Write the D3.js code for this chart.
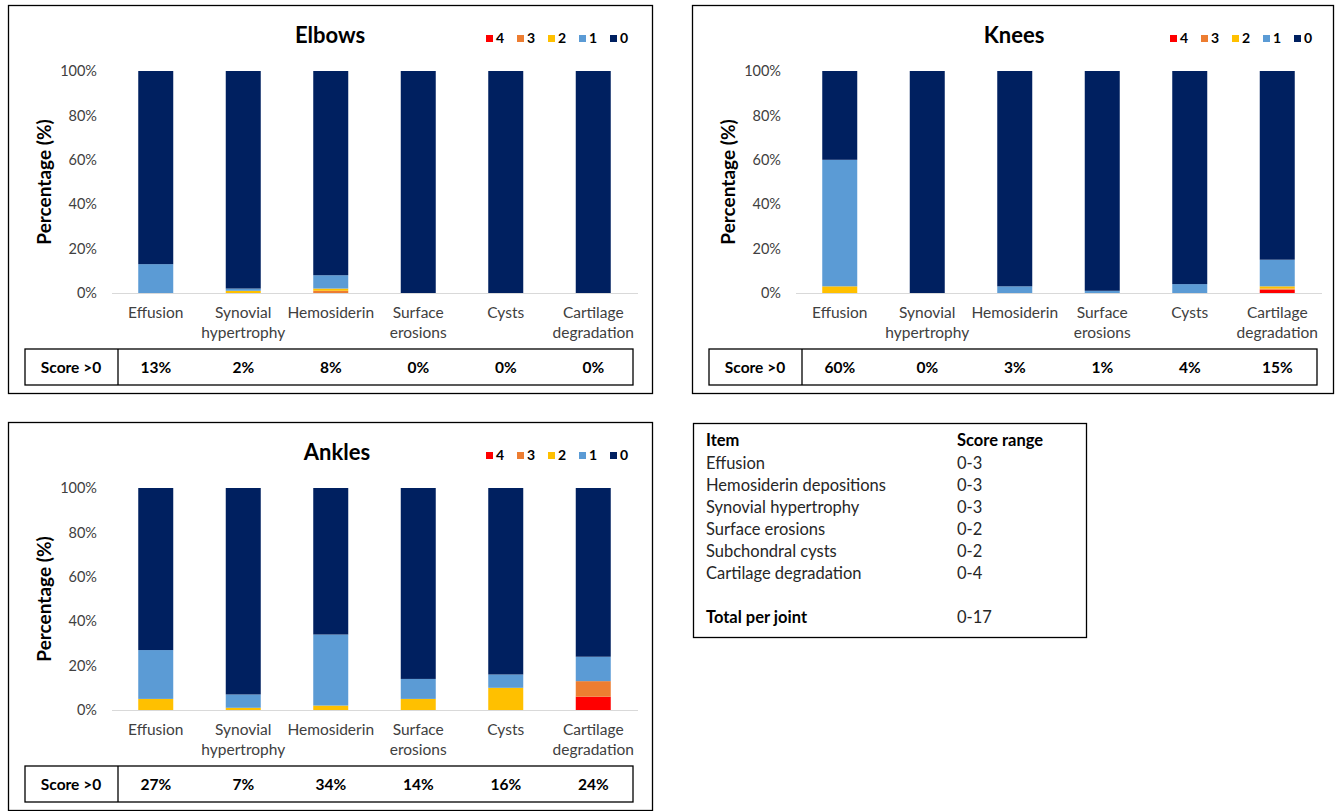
<!DOCTYPE html>
<html>
<head>
<meta charset="utf-8">
<script src="https://cdn.jsdelivr.net/npm/d3@7/dist/d3.min.js"></script>
<style>
  body { margin: 0; background: #fff; }
  svg { display: block; font-family: Lato, "Open Sans", sans-serif; }
</style>
</head>
<body>
<div id="viewportContainer"></div>
<script>
/* --- data --- */
const categories = ["Effusion", "Synovial hypertrophy", "Hemosiderin", "Surface erosions", "Cysts", "Cartilage degradation"];
const categoryLines = [["Effusion"], ["Synovial", "hypertrophy"], ["Hemosiderin"], ["Surface", "erosions"], ["Cysts"], ["Cartilage", "degradation"]];
const scoreKeys = ["0", "1", "2", "3", "4"];
const legendKeys = ["4", "3", "2", "1", "0"];
const yTicks = [0, 20, 40, 60, 80, 100];

// percentage of joints per score, per item
const elbows0 = [87, 98, 92, 100, 100, 100];
const elbows1 = [13, 1, 6, 0, 0, 0];
const elbows2 = [0, 1, 1, 0, 0, 0];
const elbows3 = [0, 0, 1, 0, 0, 0];
const elbows4 = [0, 0, 0, 0, 0, 0];
const elbowsScore = [13, 2, 8, 0, 0, 0];

const knees0 = [40, 100, 97, 99, 96, 85];
const knees1 = [57, 0, 3, 1, 4, 12];
const knees2 = [3, 0, 0, 0, 0, 1];
const knees3 = [0, 0, 0, 0, 0, 0.5];
const knees4 = [0, 0, 0, 0, 0, 1.5];
const kneesScore = [60, 0, 3, 1, 4, 15];

const ankles0 = [73, 93, 66, 86, 84, 76];
const ankles1 = [22, 6, 32, 9, 6, 11];
const ankles2 = [5, 1, 2, 5, 10, 0];
const ankles3 = [0, 0, 0, 0, 0, 7];
const ankles4 = [0, 0, 0, 0, 0, 6];
const anklesScore = [27, 7, 34, 14, 16, 24];

const scoreItems = ["Effusion", "Hemosiderin depositions", "Synovial hypertrophy", "Surface erosions", "Subchondral cysts", "Cartilage degradation"];
const scoreRanges = ["0-3", "0-3", "0-3", "0-2", "0-2", "0-4"];

const colors = d3.scaleOrdinal()
    .domain(scoreKeys)
    .range(["#002060", "#5B9BD5", "#FFC000", "#ED7D31", "#FF0000"]);

/* --- viewport --- */
const viewport = {width: 1340, height: 811};
const svg = d3.select("#viewportContainer").append("svg")
    .attr("width", viewport.width)
    .attr("height", viewport.height);

const panels = [
    {title: "Elbows", x: 8, y: 5, w: 644, h: 388, titleX: 322, s: [elbows0, elbows1, elbows2, elbows3, elbows4], score: elbowsScore},
    {title: "Knees", x: 692, y: 5, w: 641, h: 388, titleX: 322, s: [knees0, knees1, knees2, knees3, knees4], score: kneesScore},
    {title: "Ankles", x: 8, y: 422, w: 644, h: 388, titleX: 329, s: [ankles0, ankles1, ankles2, ankles3, ankles4], score: anklesScore}
];

const xScale = d3.scaleBand().domain(categories).range([104, 629]).paddingInner(0.6).paddingOuter(0.3);
const yScale = d3.scaleLinear().domain([0, 100]).range([288, 66]);

let drawPanel = function(p) {
    const g = svg.append("g").attr("transform", "translate(" + p.x + "," + p.y + ")");

    g.append("rect")
        .attr("x", 0.5).attr("y", 0.5)
        .attr("width", p.w).attr("height", p.h)
        .attr("fill", "none").attr("stroke", "#000").attr("stroke-width", 1.3);

    g.append("text")
        .attr("x", p.titleX).attr("y", 38)
        .attr("text-anchor", "middle")
        .attr("font-size", 22).attr("font-weight", "bold")
        .text(p.title);

    /*--- legend ---*/
    const legend = g.append("g").attr("transform", "translate(478,32)");
    const li = legend.selectAll("g").data(legendKeys).enter().append("g")
        .attr("transform", (d, i) => "translate(" + (i * 31) + ",0)");
    li.append("rect").attr("width", 7).attr("height", 7).attr("y", -2).attr("fill", d => colors(d));
    li.append("text").attr("x", 10).attr("y", 6).attr("font-size", 14).attr("font-weight", "bold").text(d => d);

    /*--- stacked bars ---*/
    const rows = categories.map((c, i) => {
        const r = {cat: c};
        scoreKeys.forEach((k, j) => r[k] = p.s[j][i]);
        return r;
    });
    // score 4 at the bottom, 0 on top
    const stack = d3.stack().keys(legendKeys)(rows);

    g.append("g").selectAll("g").data(stack).enter().append("g")
        .attr("fill", d => colors(d.key))
        .selectAll("rect").data(d => d).enter().append("rect")
        .attr("x", d => xScale(d.data.cat))
        .attr("width", xScale.bandwidth())
        .attr("y", d => yScale(d[1]))
        .attr("height", d => yScale(d[0]) - yScale(d[1]));

    /*--- axes ---*/
    const yAxis = d3.axisLeft(yScale).tickValues(yTicks).tickFormat(d => d + "%").tickSize(0).tickPadding(0);
    const ya = g.append("g").attr("transform", "translate(89,0)").call(yAxis);
    ya.select(".domain").remove();
    ya.selectAll("text").attr("font-size", 14.5).attr("fill", "#404040").attr("font-family", "Lato, sans-serif");

    g.append("line")
        .attr("x1", 104).attr("x2", 630)
        .attr("y1", yScale(0) + 0.5).attr("y2", yScale(0) + 0.5)
        .attr("stroke", "#D9D9D9").attr("stroke-width", 1.2);

    g.append("text")
        .attr("transform", "translate(43," + ((yScale(0) + yScale(100)) / 2) + ") rotate(-90)")
        .attr("text-anchor", "middle")
        .attr("font-size", 19).attr("font-weight", "bold")
        .text("Percentage (%)");

    const xl = g.append("g").selectAll("text").data(categoryLines).enter().append("text")
        .attr("text-anchor", "middle")
        .attr("x", (d, i) => xScale(categories[i]) + xScale.bandwidth() / 2)
        .attr("y", 313)
        .attr("font-size", 15.5).attr("fill", "#404040");
    xl.selectAll("tspan").data(d => d).enter().append("tspan")
        .attr("x", function() { return d3.select(this.parentNode).attr("x"); })
        .attr("dy", (d, i) => i === 0 ? 0 : 20)
        .text(d => d);

    /*--- score >0 row ---*/
    g.append("rect")
        .attr("x", 17).attr("y", 344).attr("width", 608).attr("height", 36)
        .attr("fill", "none").attr("stroke", "#000").attr("stroke-width", 1.3);
    g.append("line")
        .attr("x1", 110).attr("x2", 110).attr("y1", 344).attr("y2", 380)
        .attr("stroke", "#000").attr("stroke-width", 1.3);
    g.append("text")
        .attr("x", 63).attr("y", 368).attr("text-anchor", "middle")
        .attr("font-size", 15.5).attr("font-weight", "bold")
        .text("Score >0");
    g.append("g").selectAll("text").data(p.score).enter().append("text")
        .attr("x", (d, i) => xScale(categories[i]) + xScale.bandwidth() / 2)
        .attr("y", 368).attr("text-anchor", "middle")
        .attr("font-size", 15.5).attr("font-weight", "bold")
        .text(d => d + "%");
};

panels.forEach(drawPanel);

/*--- score range table ---*/
const tbl = svg.append("g").attr("transform", "translate(693,423)");
tbl.append("rect").attr("x", 0.5).attr("y", 0.5).attr("width", 393).attr("height", 214)
    .attr("fill", "none").attr("stroke", "#000").attr("stroke-width", 1.3);
tbl.append("text").attr("x", 13).attr("y", 23).attr("font-size", 16.5).attr("font-weight", "bold").text("Item");
tbl.append("text").attr("x", 264).attr("y", 23).attr("font-size", 16.5).attr("font-weight", "bold").text("Score range");
tbl.selectAll(".item").data(scoreItems).enter().append("text")
    .attr("class", "item")
    .attr("x", 13).attr("y", (d, i) => 46 + i * 22)
    .attr("font-size", 16.5).attr("fill", "#262626")
    .text(d => d);
tbl.selectAll(".range").data(scoreRanges).enter().append("text")
    .attr("class", "range")
    .attr("x", 264).attr("y", (d, i) => 46 + i * 22)
    .attr("font-size", 16.5).attr("fill", "#262626")
    .text(d => d);
tbl.append("text").attr("x", 13).attr("y", 200).attr("font-size", 16.5).attr("font-weight", "bold").text("Total per joint");
tbl.append("text").attr("x", 264).attr("y", 200).attr("font-size", 16.5).attr("fill", "#262626").text("0-17");
</script>
</body>
</html>
